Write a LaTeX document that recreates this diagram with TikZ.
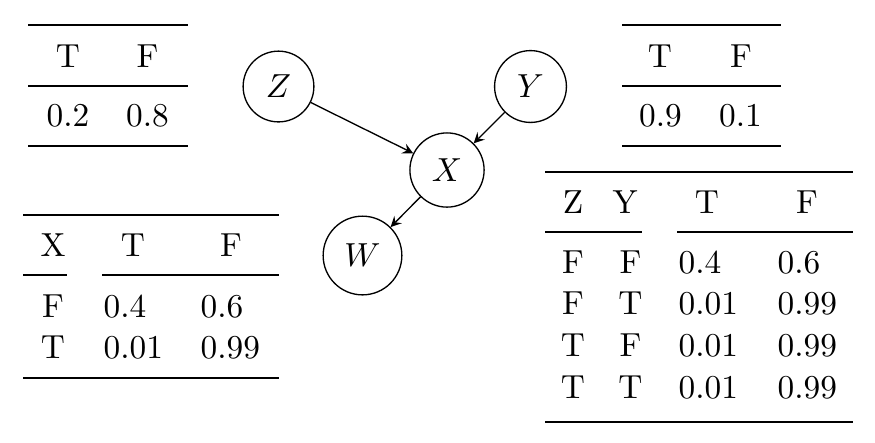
\documentclass[tikz,border=0pt]{standalone}
\usepackage{amsmath}
\usepackage{xcolor}
\usepackage{tikz}

\begin{document}
\begin{tikzpicture}[x=0.3pt, y=-0.3pt, var/.style={circle, draw, inner sep=3.9pt}, cell/.style={anchor=base, inner sep=0pt}, lcell/.style={anchor=base west, inner sep=0pt}, heavy/.style={line width=0.8pt}, light/.style={line width=0.5pt}, cmid/.style={line width=0.4pt}]
  \useasboundingbox (0,0) rectangle (875,442);
  % network
  \node[var] (Z) at (278.5,86.5) {$Z$};
  \node[var] (Y) at (530.5,86.5) {$Y$};
  \node[var] (X) at (447,170) {$X$};
  \node[var] (W) at (362.5,255.5) {$W$};
  \draw[-stealth] (Z) -- (X);
  \draw[-stealth] (Y) -- (X);
  \draw[-stealth] (X) -- (W);

  % P(Z)
  \draw[heavy] (28,25) -- (188,25);
  \node[cell] (zt) at (68,67) {T};
  \node[cell] (zf) at (147.5,67) {F};
  \draw[light] (28,86) -- (188,86);
  \node[cell] (zpt) at (68,126) {0.2};
  \node[cell] (zpf) at (147.5,126) {0.8};
  \draw[heavy] (28,146) -- (188,146);

  % P(Y)
  \draw[heavy] (622,25) -- (781,25);
  \node[cell] (yt) at (660,67) {T};
  \node[cell] (yf) at (741,67) {F};
  \draw[light] (622,86) -- (781,86);
  \node[cell] (ypt) at (660.5,126) {0.9};
  \node[cell] (ypf) at (740.5,126) {0.1};
  \draw[heavy] (622,146) -- (781,146);

  % P(W|X)
  \draw[heavy] (23,215) -- (279,215);
  \node[cell] (wx) at (53,256) {X};
  \node[cell] (wt) at (133,256) {T};
  \node[cell] (wf) at (231,256) {F};
  \draw[cmid] (23,275) -- (67,275);
  \draw[cmid] (102,275) -- (279,275);
  \node[cell] (wx1) at (53,317) {F};
  \node[lcell] (wt1) at (103,317) {0.4};
  \node[lcell] (wf1) at (200,317) {0.6};
  \node[cell] (wx2) at (53,358) {T};
  \node[lcell] (wt2) at (103,358) {0.01};
  \node[lcell] (wf2) at (200,358) {0.99};
  \draw[heavy] (23,378) -- (279,378);

  % P(X|Z,Y)
  \draw[heavy] (545,172) -- (853,172);
  \node[cell] (xz) at (573,213) {Z};
  \node[cell] (xy) at (625,213) {Y};
  \node[cell] (xt) at (707,213) {T};
  \node[cell] (xf) at (807,213) {F};
  \draw[cmid] (545,232) -- (642,232);
  \draw[cmid] (677,232) -- (853,232);
  \foreach \z/\y/\t/\f [count=\i] in {F/F/0.4/0.6, F/T/0.01/0.99, T/F/0.01/0.99, T/T/0.01/0.99} {
    \node[cell] (xz\i) at (573,273+41.7*\i-41.7) {\z};
    \node[cell] (xy\i) at (630.5,273+41.7*\i-41.7) {\y};
    \node[lcell] (xt\i) at (678,273+41.7*\i-41.7) {\t};
    \node[lcell] (xf\i) at (777,273+41.7*\i-41.7) {\f};
  }
  \draw[heavy] (545,422) -- (853,422);
\end{tikzpicture}
\end{document}
